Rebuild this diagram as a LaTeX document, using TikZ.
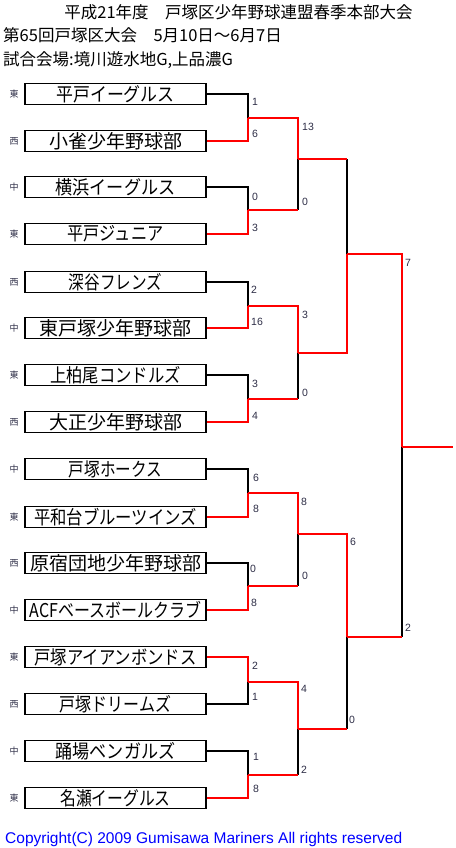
\documentclass[tikz,border=0pt]{standalone}
\usepackage{fontspec}
\usepackage{graphicx}
\newfontfamily\jpf{Noto Sans CJK JP}
\newfontfamily\lsans{Liberation Sans}
\definecolor{scorecol}{RGB}{45,45,70}
\definecolor{linered}{RGB}{255,0,0}
\definecolor{copyblue}{RGB}{0,0,255}
\newcommand\tname[2]{\scalebox{#1}[1]{#2}}
\begin{document}
\begin{tikzpicture}[x=1pt,y=-1pt,
  team/.style={draw=black, line width=1.7pt, fill=white, minimum width=181pt, minimum height=21pt, inner sep=0pt,
    font=\jpf\fontsize{19}{19}\selectfont},
  pre/.style={font=\jpf\fontsize{9}{9}\selectfont, text=scorecol, inner sep=0pt},
  bk/.style={line width=2pt, black},
  rd/.style={line width=2pt, linered},
  score/.style={anchor=west, inner sep=0pt, font=\lsans\fontsize{10.5}{10.5}\selectfont, text=scorecol},
  head/.style={inner sep=0pt, font=\jpf\fontsize{16.5}{16.5}\selectfont}]
\useasboundingbox (0,0) rectangle (455,848);

% headings
\node[head] (title) at (238.5,12) {平成21年度　戸塚区少年野球連盟春季本部大会};
\node[head, anchor=west] (date) at (3,35) {第65回戸塚区大会　5月10日～6月7日};
\node[head, anchor=west] (place) at (3,60) {試合会場:境川遊水地G,上品濃G};

% teams
\node[team] (t1)  at (115.5,94)  {\tname{0.89}{平戸イーグルス}};
\node[team] (t2)  at (115.5,141) {\tname{1}{小雀少年野球部}};
\node[team] (t3)  at (115.5,187) {\tname{0.9}{横浜イーグルス}};
\node[team] (t4)  at (115.5,234) {\tname{0.85}{平戸ジュニア}};
\node[team] (t5)  at (115.5,282) {\tname{0.82}{深谷フレンズ}};
\node[team] (t6)  at (115.5,328) {\tname{1}{東戸塚少年野球部}};
\node[team] (t7)  at (115.5,375) {\tname{0.86}{上柏尾コンドルズ}};
\node[team] (t8)  at (115.5,422) {\tname{1}{大正少年野球部}};
\node[team] (t9)  at (115.5,469) {\tname{0.82}{戸塚ホークス}};
\node[team] (t10) at (115.5,517) {\tname{0.86}{平和台ブルーツインズ}};
\node[team] (t11) at (115.5,563) {\tname{1}{原宿団地少年野球部}};
\node[team] (t12) at (115.5,610) {\tname{0.84}{ACFベースボールクラブ}};
\node[team] (t13) at (115.5,657) {\tname{0.86}{戸塚アイアンボンドス}};
\node[team] (t14) at (115.5,704) {\tname{0.84}{戸塚ドリームズ}};
\node[team] (t15) at (115.5,751) {\tname{0.9}{踊場ベンガルズ}};
\node[team] (t16) at (115.5,798) {\tname{0.83}{名瀬イーグルス}};

% area prefixes
\node[pre] (p1)  at (14,94)  {東};
\node[pre] (p2)  at (14,141) {西};
\node[pre] (p3)  at (14,187) {中};
\node[pre] (p4)  at (14,234) {東};
\node[pre] (p5)  at (14,282) {西};
\node[pre] (p6)  at (14,328) {中};
\node[pre] (p7)  at (14,375) {東};
\node[pre] (p8)  at (14,422) {西};
\node[pre] (p9)  at (14,469) {中};
\node[pre] (p10) at (14,517) {東};
\node[pre] (p11) at (14,563) {西};
\node[pre] (p12) at (14,610) {中};
\node[pre] (p13) at (14,657) {東};
\node[pre] (p14) at (14,704) {西};
\node[pre] (p15) at (14,751) {中};
\node[pre] (p16) at (14,798) {東};

% junctions
\coordinate (a1) at (248,118);
\coordinate (a2) at (248,210);
\coordinate (a3) at (248,306);
\coordinate (a4) at (248,399);
\coordinate (a5) at (248,493);
\coordinate (a6) at (248,586);
\coordinate (a7) at (248,682);
\coordinate (a8) at (248,775);
\coordinate (b1) at (298,159);
\coordinate (b2) at (298,353);
\coordinate (b3) at (298,534);
\coordinate (b4) at (298,729);
\coordinate (c1) at (347,254);
\coordinate (c2) at (347,637);
\coordinate (d1) at (402,447);
\coordinate (fin) at (453,447);

% round 1 losers (black)
\draw[bk] (t1.east) -| (a1);
\draw[bk] (t3.east) -| (a2);
\draw[bk] (t5.east) -| (a3);
\draw[bk] (t7.east) -| (a4);
\draw[bk] (t9.east) -| (a5);
\draw[bk] (t11.east) -| (a6);
\draw[bk] (t14.east) -| (a7);
\draw[bk] (t15.east) -| (a8);
% round 2 losers' verticals
\draw[bk] (a2 -| b1) -- (b1);
\draw[bk] (a4 -| b2) -- (b2);
\draw[bk] (a6 -| b3) -- (b3);
\draw[bk] (a8 -| b4) -- (b4);
% round 3 losers' verticals
\draw[bk] (b1 -| c1) -- (c1);
\draw[bk] (b4 -| c2) -- (c2);
% final loser vertical
\draw[bk] (c2 -| d1) -- (d1);

% round 1 winners (red)
\draw[rd] (t2.east) -| (a1);
\draw[rd] (t4.east) -| (a2);
\draw[rd] (t6.east) -| (a3);
\draw[rd] (t8.east) -| (a4);
\draw[rd] (t10.east) -| (a5);
\draw[rd] (t12.east) -| (a6);
\draw[rd] (t13.east) -| (a7);
\draw[rd] (t16.east) -| (a8);
% round 2
\draw[rd] (a1) -| (b1);
\draw[rd] (a2) -- (a2 -| b1);
\draw[rd] (a3) -| (b2);
\draw[rd] (a4) -- (a4 -| b2);
\draw[rd] (a5) -| (b3);
\draw[rd] (a6) -- (a6 -| b3);
\draw[rd] (a7) -| (b4);
\draw[rd] (a8) -- (a8 -| b4);
% round 3
\draw[rd] (b1) -- (b1 -| c1);
\draw[rd] (b2) -| (c1);
\draw[rd] (b3) -| (c2);
\draw[rd] (b4) -- (b4 -| c2);
% final
\draw[rd] (c1) -| (d1);
\draw[rd] (c2) -- (c2 -| d1);
\draw[rd] (d1) -- (fin);

% scores round 1
\node[score] (s1)  at (252,102) {1};
\node[score] (s2)  at (252,134) {6};
\node[score] (s3)  at (252,197) {0};
\node[score] (s4)  at (252,228) {3};
\node[score] (s5)  at (251,290) {2};
\node[score] (s6)  at (251,322) {16};
\node[score] (s7)  at (252,384) {3};
\node[score] (s8)  at (252,416) {4};
\node[score] (s9)  at (253,478) {6};
\node[score] (s10) at (253,509) {8};
\node[score] (s11) at (250,569) {0};
\node[score] (s12) at (251,603) {8};
\node[score] (s13) at (252,666) {2};
\node[score] (s14) at (252,697) {1};
\node[score] (s15) at (253,757) {1};
\node[score] (s16) at (253,789) {8};
% round 2
\node[score] (u1) at (302,127) {13};
\node[score] (u2) at (302,202) {0};
\node[score] (u3) at (302,315) {3};
\node[score] (u4) at (302,393) {0};
\node[score] (u5) at (301,502) {8};
\node[score] (u6) at (302,576) {0};
\node[score] (u7) at (301,689) {4};
\node[score] (u8) at (301,770) {2};
% round 3
\node[score] (v1) at (350,542) {6};
\node[score] (v2) at (349,720) {0};
% final
\node[score] (w1) at (405,263) {7};
\node[score] (w2) at (405,628) {2};

% copyright
\node[anchor=west, inner sep=0pt, text=copyblue, font=\lsans\fontsize{15.5}{15.5}\selectfont] (copy) at (5,839) {Copyright(C) 2009 Gumisawa Mariners All rights reserved};
\end{tikzpicture}
\end{document}
